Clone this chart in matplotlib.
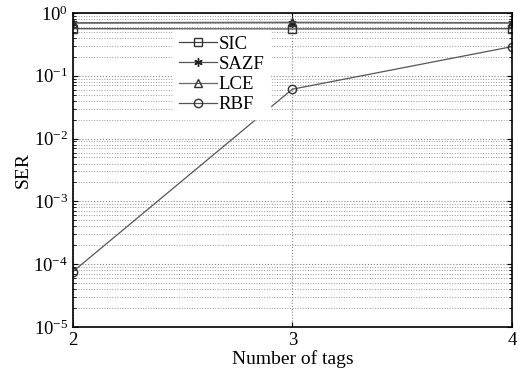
import numpy as np
import matplotlib.pyplot as plt
from matplotlib.ticker import LogLocator, NullFormatter

plt.rcParams['font.family'] = ['Liberation Serif', 'DejaVu Serif']
plt.rcParams['mathtext.fontset'] = 'stix'

# SER versus number of tags for each detector
tags = [2, 3, 4]
ser_sic = [0.56, 0.555, 0.56]
ser_sazf = [0.69, 0.70, 0.69]
ser_lce = [0.70, 0.71, 0.70]
ser_rbf = [7.6e-5, 0.061, 0.29]

fig = plt.figure(figsize=(5.31, 3.79), dpi=100)
ax = fig.add_axes([0.137, 0.137, 0.827, 0.829])

ax.semilogy(tags, ser_sic, '-s', color='#444444', lw=0.9, ms=6, mfc='none', mec='#333333', label='SIC')
ax.semilogy(tags, ser_sazf, '-', marker=(6, 2, 0), color='#555555', lw=0.9, ms=6, mec='#222222', label='SAZF')
ax.semilogy(tags, ser_lce, '-^', color='#666666', lw=0.9, ms=6, mfc='none', mec='#333333', label='LCE')
ax.semilogy(tags, ser_rbf, '-o', color='#555555', lw=0.9, ms=6, mfc='none', mec='#333333', label='RBF')

ax.set_xlim(2, 4)
ax.set_ylim(1e-5, 1)
ax.set_xticks(tags)
ax.yaxis.set_major_locator(LogLocator(base=10, numticks=10))
ax.yaxis.set_minor_locator(LogLocator(base=10, subs=np.arange(2, 10), numticks=20))
ax.yaxis.set_minor_formatter(NullFormatter())
ax.tick_params(axis='both', which='both', direction='in', labelsize=13.5, top=True, right=True)
ax.tick_params(axis='y', which='minor', length=2)

ax.grid(True, which='major', linestyle=':', color='#888888', lw=0.8)
ax.grid(True, which='minor', axis='y', linestyle=':', color='#999999', lw=0.7)
for s in ax.spines.values():
    s.set_linewidth(1.2)

ax.set_xlabel('Number of tags', fontsize=14, labelpad=1)
ax.set_ylabel('SER', fontsize=14, labelpad=1)

leg = ax.legend(loc='upper left', bbox_to_anchor=(0.208, 0.975), fontsize=13.5,
                frameon=True, fancybox=False, edgecolor='white', facecolor='white',
                framealpha=1, handlelength=2.0, handletextpad=0.1, labelspacing=0.16,
                borderpad=0.3)

fig.savefig('out.png', dpi=100)
